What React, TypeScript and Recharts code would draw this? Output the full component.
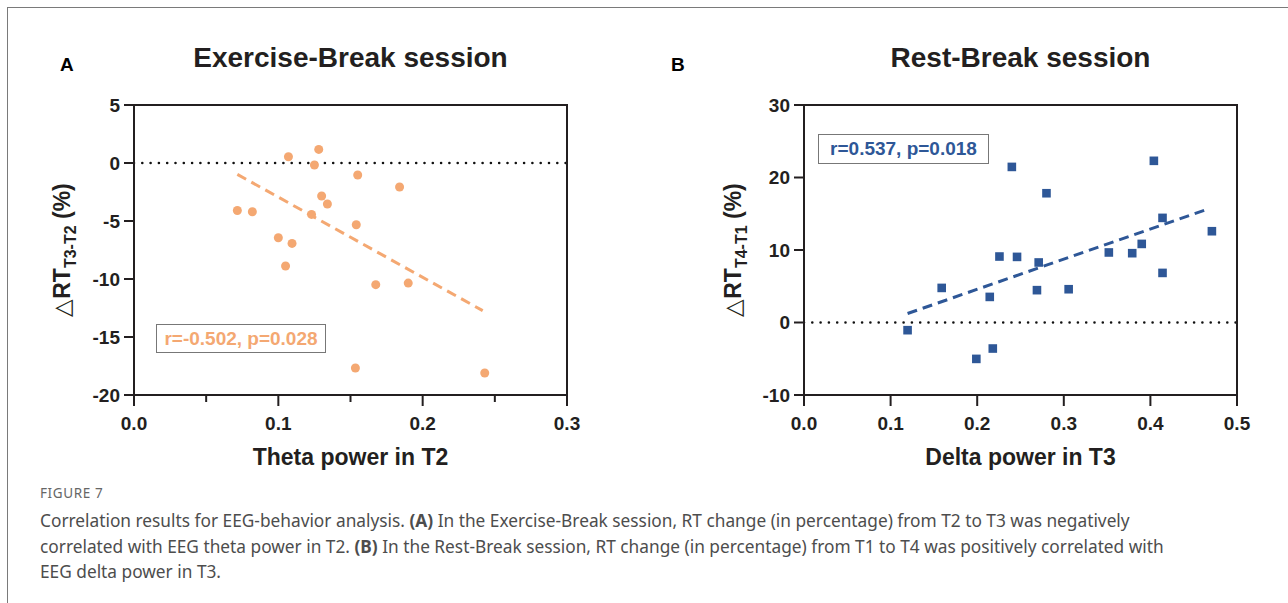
import React from 'react';
import { ScatterChart, Scatter, XAxis, YAxis, ReferenceLine } from 'recharts';

// Panel A: Exercise-Break session
const thetaT2 = [0.0716, 0.082, 0.107, 0.128, 0.125, 0.155, 0.184, 0.130, 0.134, 0.123, 0.154, 0.100, 0.1095, 0.105, 0.1675, 0.190, 0.1534, 0.243];
const rtT3T2 = [-4.09, -4.2, 0.54, 1.17, -0.17, -1.03, -2.07, -2.84, -3.53, -4.43, -5.32, -6.44, -6.93, -8.88, -10.49, -10.35, -17.67, -18.1];
const trendAx = [0.0716, 0.2416];
const trendAy = [-0.98, -12.73];
const ticksAx = [0, 0.05, 0.1, 0.15, 0.2, 0.25, 0.3];
const majorAx = [0, 0.1, 0.2, 0.3];
const ticksAy = [-20, -15, -10, -5, 0, 5];

// Panel B: Rest-Break session
const deltaT3 = [0.1196, 0.159, 0.199, 0.218, 0.2145, 0.2257, 0.240, 0.246, 0.269, 0.271, 0.280, 0.3056, 0.352, 0.379, 0.390, 0.404, 0.414, 0.414, 0.471];
const rtT4T1 = [-1.06, 4.77, -5.02, -3.59, 3.53, 9.1, 21.46, 9.05, 4.46, 8.28, 17.83, 4.59, 9.66, 9.56, 10.84, 22.3, 14.43, 6.84, 12.59];
const trendBx = [0.1196, 0.465];
const trendBy = [1.24, 15.59];
const ticksBx = [0, 0.1, 0.2, 0.3, 0.4, 0.5];
const ticksBy = [-10, 0, 10, 20, 30];

const ORANGE = '#F4A872';
const BLUE = '#2E5797';
const INK = '#231f20';
const FONT = '"Liberation Sans", Arial, sans-serif';

// chart geometry (shared by both panels)
const CH_W = 600;
const CH_H = 470;
const MARGIN = { top: 105, right: 33, bottom: 45, left: 74 };
const Y_AXIS_W = 60;
const X_AXIS_H = 30;

const fmtX = (v: number) => v.toFixed(1);

const makeXTick = (major: number[]) => (props: any) => {
  const { x, y, payload } = props;
  const isMajor = major.some((m) => Math.abs(m - payload.value) < 1e-9);
  return (
    <g>
      <line x1={x} x2={x} y1={y} y2={y + (isMajor ? 11 : 7)} stroke={INK} strokeWidth={2} />
      {isMajor && (
        <text x={x} y={y + 28} dy="0.35em" textAnchor="middle" fontFamily={FONT} fontWeight="bold" fontSize={19} fill={INK}>
          {fmtX(payload.value)}
        </text>
      )}
    </g>
  );
};

const YTick = (props: any) => {
  const { x, y, payload } = props;
  return (
    <g>
      <line x1={x - 10} x2={x} y1={y} y2={y} stroke={INK} strokeWidth={2} />
      <text x={x - 14} y={y} dy="0.35em" textAnchor="end" fontFamily={FONT} fontWeight="bold" fontSize={19} fill={INK}>
        {String(payload.value)}
      </text>
    </g>
  );
};

const Dot = (props: any) => <circle cx={props.cx} cy={props.cy} r={4.5} fill={ORANGE} />;
const Sq = (props: any) => <rect x={props.cx - 4.3} y={props.cy - 4.3} width={8.6} height={8.6} fill={BLUE} />;
const NoMark = () => <g />;

type PanelProps = {
  left: number;
  xs: number[];
  ys: number[];
  tx: number[];
  ty: number[];
  xDomain: [number, number];
  yDomain: [number, number];
  xTicks: number[];
  xMajor: number[];
  yTicks: number[];
  color: string;
  shape: any;
};

const Panel = ({ left, xs, ys, tx, ty, xDomain, yDomain, xTicks, xMajor, yTicks, color, shape }: PanelProps) => {
  const data = xs.map((x, i) => ({ x, y: ys[i] }));
  const frame = [
    { x: xDomain[0], y: yDomain[1] },
    { x: xDomain[1], y: yDomain[1] },
    { x: xDomain[1], y: yDomain[0] },
  ];
  // plot-area box (derived from the chart margins), used for the top/right frame edges
  const plotLeft = MARGIN.left + Y_AXIS_W;
  const plotTop = MARGIN.top;
  const plotW = CH_W - MARGIN.right - plotLeft;
  const plotH = CH_H - MARGIN.bottom - X_AXIS_H - plotTop;
  return (
    <div style={{ position: 'absolute', left, top: 0, width: CH_W, height: CH_H }}>
      <ScatterChart width={CH_W} height={CH_H} margin={MARGIN}>
        <XAxis
          type="number"
          dataKey="x"
          domain={xDomain}
          ticks={xTicks}
          height={X_AXIS_H}
          tickSize={0}
          tickMargin={0}
          tickLine={false}
          axisLine={{ stroke: INK, strokeWidth: 2 }}
          tick={makeXTick(xMajor)}
        />
        <YAxis
          type="number"
          dataKey="y"
          domain={yDomain}
          ticks={yTicks}
          width={Y_AXIS_W}
          tickSize={0}
          tickMargin={0}
          tickLine={false}
          axisLine={{ stroke: INK, strokeWidth: 2 }}
          tick={YTick}
        />
        <Scatter data={frame} shape={NoMark} line={{ stroke: INK, strokeWidth: 2 }} lineType="joint" isAnimationActive={false} />
        <ReferenceLine y={0} stroke="#111" strokeWidth={2.6} strokeDasharray="0 8.3" strokeLinecap="round" />
        <ReferenceLine
          segment={[{ x: tx[0], y: ty[0] }, { x: tx[1], y: ty[1] }]}
          stroke={color}
          strokeWidth={3}
          strokeDasharray="10 6"
        />
        <Scatter data={data} shape={shape} isAnimationActive={false} />
      </ScatterChart>
      <div
        style={{
          position: 'absolute',
          left: plotLeft,
          top: plotTop - 1,
          width: plotW + 1,
          height: plotH + 1,
          borderTop: `2px solid ${INK}`,
          borderRight: `2px solid ${INK}`,
          boxSizing: 'border-box',
          pointerEvents: 'none',
        }}
      />
    </div>
  );
};

const yLabelStyle = (cx: number): React.CSSProperties => ({
  position: 'absolute',
  left: cx - 100,
  top: 250 - 15,
  width: 200,
  height: 30,
  lineHeight: '30px',
  textAlign: 'center',
  transform: 'rotate(-90deg)',
  fontFamily: FONT,
  fontWeight: 'bold',
  fontSize: 23,
  color: INK,
  whiteSpace: 'nowrap',
});

const sub: React.CSSProperties = { fontSize: 16, position: 'relative', top: 6 };

export default function App() {
  return (
    <div style={{ position: 'absolute', left: 0, top: 0, width: 1288, height: 603, background: '#fff', overflow: 'hidden' }}>
      <div style={{ position: 'absolute', left: 7, top: 7, width: 1400, height: 700, borderLeft: '1px solid #7a7a7a', borderTop: '1px solid #7a7a7a' }} />
      <Panel left={0} xs={thetaT2} ys={rtT3T2} tx={trendAx} ty={trendAy} xDomain={[0, 0.3]} yDomain={[-20, 5]} xTicks={ticksAx} xMajor={majorAx} yTicks={ticksAy} color={ORANGE} shape={Dot} />
      <Panel left={670} xs={deltaT3} ys={rtT4T1} tx={trendBx} ty={trendBy} xDomain={[0, 0.5]} yDomain={[-10, 30]} xTicks={ticksBx} xMajor={ticksBx} yTicks={ticksBy} color={BLUE} shape={Sq} />

      {/* panel letters & titles */}
      <div style={{ position: 'absolute', left: 60, top: 54, fontFamily: FONT, fontWeight: 'bold', fontSize: 19, color: '#000' }}>A</div>
      <div style={{ position: 'absolute', left: 671, top: 54, fontFamily: FONT, fontWeight: 'bold', fontSize: 19, color: '#000' }}>B</div>
      <div style={{ position: 'absolute', left: 134, width: 433, top: 42, textAlign: 'center', fontFamily: FONT, fontWeight: 'bold', fontSize: 28, color: INK }}>Exercise-Break session</div>
      <div style={{ position: 'absolute', left: 804, width: 433, top: 42, textAlign: 'center', fontFamily: FONT, fontWeight: 'bold', fontSize: 28, color: INK }}>Rest-Break session</div>

      {/* axis titles */}
      <div style={{ position: 'absolute', left: 134, width: 433, top: 444, textAlign: 'center', fontFamily: FONT, fontWeight: 'bold', fontSize: 23, color: INK }}>Theta power in T2</div>
      <div style={{ position: 'absolute', left: 804, width: 433, top: 444, textAlign: 'center', fontFamily: FONT, fontWeight: 'bold', fontSize: 23, color: INK }}>Delta power in T3</div>
      <div style={yLabelStyle(62)}>
        <span style={{ fontWeight: 'normal' }}>△</span>RT<span style={sub}>T3-T2</span> (%)
      </div>
      <div style={yLabelStyle(733)}>
        <span style={{ fontWeight: 'normal' }}>△</span>RT<span style={sub}>T4-T1</span> (%)
      </div>

      {/* stats boxes */}
      <div style={{ position: 'absolute', left: 156, top: 324, width: 170, height: 29, border: '1.5px solid #777', boxSizing: 'border-box', fontFamily: FONT, fontWeight: 'bold', fontSize: 19, color: ORANGE, lineHeight: '27px', textAlign: 'center', whiteSpace: 'nowrap' }}>
        r=-0.502, p=0.028
      </div>
      <div style={{ position: 'absolute', left: 818, top: 134, width: 171, height: 30, border: '1.5px solid #777', boxSizing: 'border-box', fontFamily: FONT, fontWeight: 'bold', fontSize: 19, color: BLUE, lineHeight: '28px', textAlign: 'center', whiteSpace: 'nowrap' }}>
        r=0.537, p=0.018
      </div>

      {/* caption */}
      <div style={{ position: 'absolute', left: 40, top: 484, fontFamily: '"Noto Sans", sans-serif', fontSize: 13.5, color: '#666', letterSpacing: 0.6 }}>FIGURE 7</div>
      <div style={{ position: 'absolute', left: 40, top: 508, fontFamily: '"Noto Sans", sans-serif', fontSize: 17.3, lineHeight: '25.5px', color: '#4d4d4d', whiteSpace: 'nowrap' }}>
        <div>Correlation results for EEG-behavior analysis. <b>(A)</b> In the Exercise-Break session, RT change (in percentage) from T2 to T3 was negatively</div>
        <div>correlated with EEG theta power in T2. <b>(B)</b> In the Rest-Break session, RT change (in percentage) from T1 to T4 was positively correlated with</div>
        <div>EEG delta power in T3.</div>
      </div>
    </div>
  );
}
